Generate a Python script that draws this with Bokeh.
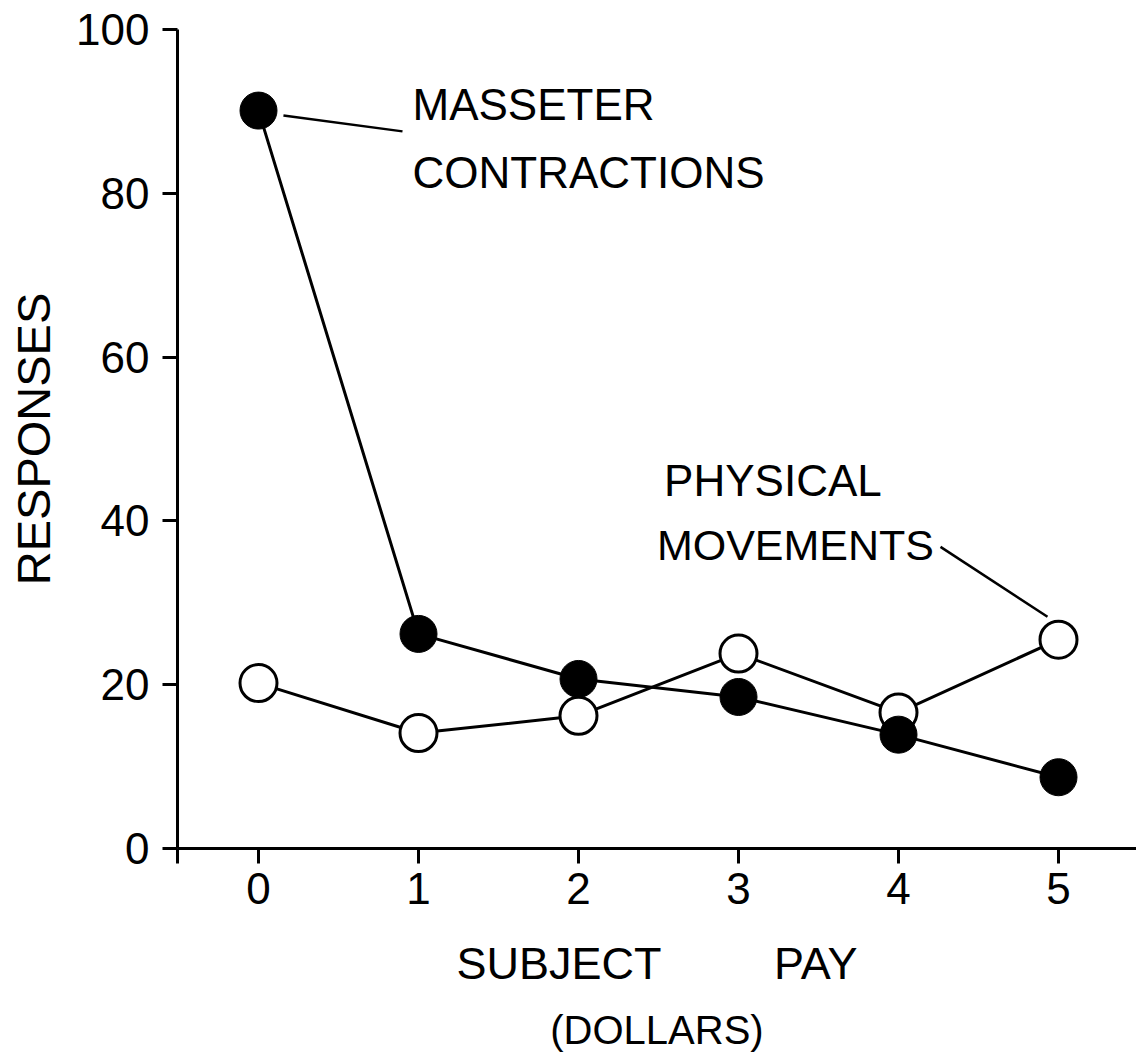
from bokeh.plotting import figure
from bokeh.models import FixedTicker, Label, Range1d, LinearAxis
from bokeh.embed import file_html
from bokeh.resources import INLINE

# ---- data ----
pay = [0, 1, 2, 3, 4, 5]
masseter = [90.1, 26.2, 20.7, 18.5, 13.9, 8.7]
physical = [20.2, 14.1, 16.2, 23.8, 16.6, 25.5]
x_ticks = [0, 1, 2, 3, 4, 5]
y_ticks = [0, 20, 40, 60, 80, 100]
y_title = "RESPONSES"
x_title = "SUBJECT" + "\u00a0" * 9 + "PAY"
x_subtitle = "(DOLLARS)"
series_names = [["MASSETER", "CONTRACTIONS"], ["PHYSICAL", "MOVEMENTS"]]

FONT = "Liberation Sans"
X0, X1 = -0.50625, 5.4875

p = figure(width=1136, height=1054,
           x_range=Range1d(X0, X1), y_range=Range1d(0, 100),
           output_backend="svg", toolbar_location=None,
           min_border_left=177, min_border_right=0,
           min_border_top=29, min_border_bottom=205)
p.outline_line_color = None
p.grid.visible = False
p.background_fill_color = "white"
p.border_fill_color = "white"

for ax in (p.xaxis, p.yaxis):
    ax.axis_line_width = 3
    ax.axis_line_color = "black"
    ax.major_tick_line_width = 3
    ax.major_tick_line_color = "black"
    ax.major_tick_in = 0
    ax.major_tick_out = 15
    ax.minor_tick_line_color = None
    ax.major_label_text_font = FONT
    ax.major_label_text_font_size = "44px"
    ax.major_label_text_color = "black"
    ax.axis_label_text_font = FONT
    ax.axis_label_text_font_style = "normal"
    ax.axis_label_text_color = "black"

# extra tick at the left corner so the y-axis pokes below the x-axis
p.xaxis.ticker = FixedTicker(ticks=[X0 + 0.001] + x_ticks)
p.xaxis.major_label_overrides = {X0 + 0.001: ""}
p.yaxis.ticker = FixedTicker(ticks=y_ticks)
p.xaxis.major_label_standoff = 9
p.yaxis.major_label_standoff = 13

p.xaxis.axis_label = x_title
p.xaxis.axis_label_text_font_size = "45px"
p.xaxis.axis_label_standoff = 31
p.yaxis.axis_label = y_title
p.yaxis.axis_label_text_font_size = "47px"
p.yaxis.axis_label_standoff = 13

sub_axis = LinearAxis(ticker=FixedTicker(ticks=[]), axis_line_color=None,
                      major_tick_out=0, major_tick_in=0, minor_tick_line_color=None,
                      major_label_standoff=0, major_label_text_font_size="0px",
                      axis_label=x_subtitle, axis_label_text_font=FONT,
                      axis_label_text_font_size="40px", axis_label_text_font_style="normal",
                      axis_label_text_color="black", axis_label_standoff=16)
p.add_layout(sub_axis, "below")

# series lines
p.line(pay, physical, line_color="black", line_width=3)
p.line(pay, masseter, line_color="black", line_width=3)
# markers
p.scatter(pay, physical, size=37, fill_color="white", line_color="black", line_width=3)
p.scatter(pay, masseter, size=37, fill_color="black", line_color="black", line_width=1)

# leader lines from labels to points
p.segment(x0=[0.156], y0=[masseter[0] - 0.6], x1=[0.90], y1=[87.56],
          line_color="black", line_width=2.5)
p.segment(x0=[4.2625], y0=[36.83], x1=[4.931], y1=[physical[5] + 2.8],
          line_color="black", line_width=2.5)

def lab(x, y, t, size):
    p.add_layout(Label(x=x, y=y, text=t, text_font=FONT, text_font_size=size,
                       text_color="black", text_align="left",
                       text_baseline="middle"))

lab(0.9625, 90.85, series_names[0][0], "44px")
lab(0.9625, 82.56, series_names[0][1], "44px")
lab(2.535, 44.88, series_names[1][0], "44px")
lab(2.49, 37.07, series_names[1][1], "43px")

open("out.html", "w").write(file_html(p, INLINE))
